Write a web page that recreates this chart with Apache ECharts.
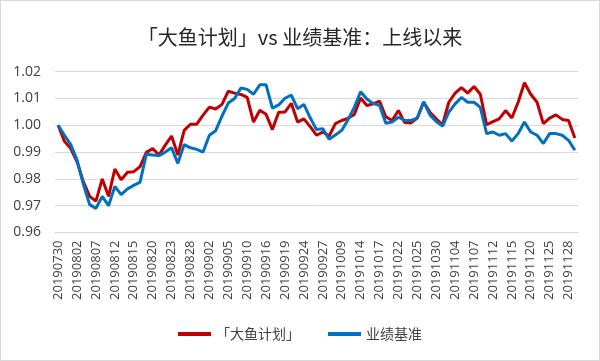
<!DOCTYPE html>
<html><head><meta charset="utf-8">
<script src="https://cdn.jsdelivr.net/npm/echarts@6/dist/echarts.min.js"></script>
<style>html,body{margin:0;padding:0;background:#fff}#c{width:600px;height:361px;box-sizing:border-box;border:1px solid #d9d9d9}</style>
</head><body><div id="c"></div>
<script>
const dates = ['20190730','20190731','20190801','20190802','20190805','20190806','20190807','20190808','20190809','20190812',
'20190813','20190814','20190815','20190816','20190819','20190820','20190821','20190822','20190823','20190826',
'20190827','20190828','20190829','20190830','20190902','20190903','20190904','20190905','20190906','20190909',
'20190910','20190911','20190912','20190916','20190917','20190918','20190919','20190920','20190923','20190924',
'20190925','20190926','20190927','20190930','20191008','20191009','20191010','20191011','20191014','20191015',
'20191016','20191017','20191018','20191021','20191022','20191023','20191024','20191025','20191028','20191029',
'20191030','20191031','20191101','20191104','20191105','20191106','20191107','20191108','20191111','20191112',
'20191113','20191114','20191115','20191118','20191119','20191120','20191121','20191122','20191125','20191126',
'20191127','20191128','20191129'];
const dayu = [1.0000,0.9940,0.9913,0.9864,0.9790,0.9735,0.9717,0.9800,0.9735,0.9837,
0.9797,0.9825,0.9827,0.9846,0.9899,0.9913,0.9889,0.9926,0.9960,0.9889,
0.9981,1.0004,1.0004,1.0038,1.0068,1.0061,1.0078,1.0127,1.0120,1.0115,
1.0104,1.0012,1.0056,1.0041,0.9984,1.0049,1.0050,1.0082,1.0012,1.0024,
0.9995,0.9963,0.9975,0.9960,1.0006,1.0018,1.0026,1.0040,1.0102,1.0074,
1.0080,1.0090,1.0032,1.0018,1.0055,1.0010,1.0009,1.0027,1.0086,1.0049,
1.0024,1.0002,1.0086,1.0120,1.0141,1.0120,1.0145,1.0116,1.0002,1.0014,
1.0024,1.0055,1.0027,1.0086,1.0159,1.0116,1.0086,1.0006,1.0027,1.0039,
1.0022,1.0018,0.9953];
const bench = [1.0000,0.9963,0.9928,0.9870,0.9780,0.9704,0.9690,0.9735,0.9700,0.9772,
0.9741,0.9763,0.9776,0.9788,0.9892,0.9889,0.9887,0.9900,0.9916,0.9858,
0.9928,0.9916,0.9910,0.9900,0.9963,0.9980,1.0034,1.0083,1.0100,1.0139,
1.0134,1.0116,1.0151,1.0151,1.0064,1.0076,1.0101,1.0113,1.0062,1.0078,
1.0028,0.9984,0.9987,0.9948,0.9964,0.9981,1.0021,1.0067,1.0125,1.0098,
1.0081,1.0075,1.0008,1.0012,1.0030,1.0018,1.0018,1.0027,1.0088,1.0039,
1.0014,0.9997,1.0049,1.0080,1.0104,1.0086,1.0086,1.0067,0.9969,0.9975,
0.9963,0.9969,0.9941,0.9969,1.0012,0.9975,0.9963,0.9932,0.9969,0.9969,
0.9963,0.9944,0.9907];
const seriesNames = ['「大鱼计划」','业绩基准'];
const titleText = '「大鱼计划」vs 业绩基准：上线以来';
const chart = echarts.init(document.getElementById('c'));
const font = '"Noto Sans CJK SC", "Noto Sans", sans-serif';
const numFont = '"Open Sans", "DejaVu Sans", sans-serif';
chart.setOption({
  animation:false,
  textStyle:{fontFamily:font},
  title:{text:titleText,left:'center',top:21,textStyle:{fontSize:20,fontWeight:'normal',color:'#262626',fontFamily:font}},
  legend:{bottom:14,left:'center',itemGap:28,icon:'rect',itemWidth:33,itemHeight:4,
    textStyle:{fontSize:14,color:'#404040',fontFamily:font},data:seriesNames},
  grid:{left:54,right:21,top:70.7,bottom:127.5,containLabel:false},
  xAxis:{type:'category',data:dates,boundaryGap:true,
    axisLine:{lineStyle:{color:'#d9d9d9',width:1}},axisTick:{show:false},
    axisLabel:{interval:2,rotate:90,fontSize:13,color:'#404040',margin:8,fontFamily:numFont}},
  yAxis:{type:'value',min:0.96,max:1.02,interval:0.01,
    axisLine:{show:false},axisTick:{show:false},
    splitLine:{lineStyle:{color:'#d9d9d9',width:1}},
    axisLabel:{fontSize:14,color:'#404040',margin:14,formatter:v=>v.toFixed(2),fontFamily:numFont}},
  series:[
    {name:seriesNames[0],type:'line',data:dayu,symbol:'none',lineStyle:{color:'#C00000',width:3},itemStyle:{color:'#C00000'}},
    {name:seriesNames[1],type:'line',data:bench,symbol:'none',lineStyle:{color:'#0070C0',width:3},itemStyle:{color:'#0070C0'}}
  ]
});
</script></body></html>
